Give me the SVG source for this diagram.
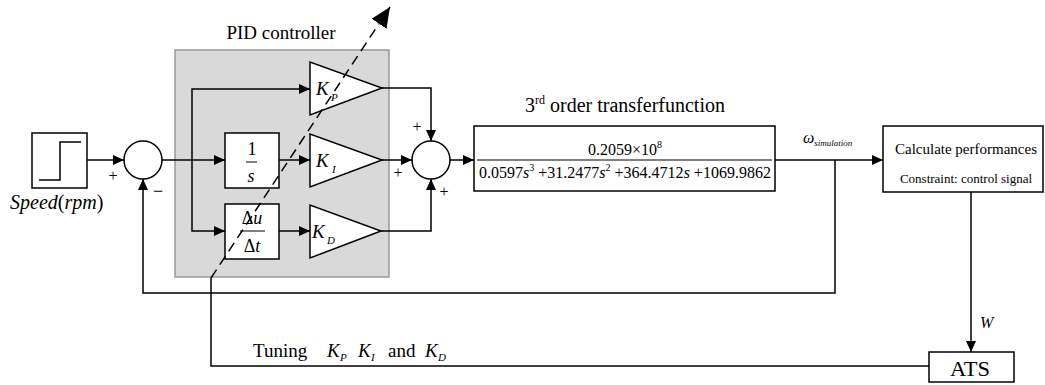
<svg xmlns="http://www.w3.org/2000/svg" width="1045" height="385" viewBox="0 0 1045 385">
<style>
.ln{fill:none;stroke:#000;stroke-width:1.5}
.bx{fill:#fff;stroke:#000;stroke-width:1.5}
text{font-family:'Liberation Serif','Times New Roman','DejaVu Serif',serif;fill:#000}
.i{font-style:italic}
</style>
<defs>
<marker id="ar" markerUnits="userSpaceOnUse" markerWidth="12" markerHeight="10" refX="11" refY="5" orient="auto">
<path d="M0,0 L11,5 L0,10 z" fill="#000"/>
</marker>
<marker id="big" markerUnits="userSpaceOnUse" markerWidth="22" markerHeight="18" refX="20" refY="9" orient="auto">
<path d="M0,0 L20,9 L0,18 z" fill="#000"/>
</marker>
</defs>
<rect x="0" y="0" width="1045" height="385" fill="#fff"/>

<g id="pid-box">
<rect x="175" y="50" width="214" height="227" fill="#d9d9d9" stroke="#999" stroke-width="1.5"/>
<text x="281" y="39" font-size="19" text-anchor="middle">PID controller</text>
</g>

<g id="step">
<rect class="bx" x="32" y="133" width="55" height="55"/>
<path class="ln" d="M39,180 H60 V142 H81"/>
<text x="10" y="209" font-size="20"><tspan class="i">Speed</tspan>(<tspan class="i">rpm</tspan>)</text>
</g>

<g id="sum1">
<circle class="bx" cx="143" cy="160" r="19"/>
<text x="113" y="181" font-size="16" text-anchor="middle">+</text>
<text x="158" y="197" font-size="18" text-anchor="middle">−</text>
</g>

<g id="integrator">
<rect class="bx" x="225" y="133" width="54" height="55"/>
<text x="252" y="155" font-size="18" text-anchor="middle">1</text>
<line x1="246" y1="162" x2="257" y2="162" stroke="#000" stroke-width="1"/>
<text class="i" x="251" y="182" font-size="18" text-anchor="middle">s</text>
</g>

<g id="derivative">
<rect class="bx" x="225" y="204" width="54" height="55"/>
<text x="252" y="224" font-size="18" text-anchor="middle">Δ<tspan class="i">u</tspan></text>
<line x1="240" y1="231" x2="265" y2="231" stroke="#000" stroke-width="1"/>
<text x="252" y="252" font-size="18" text-anchor="middle">Δ<tspan class="i">t</tspan></text>
</g>

<g id="kp">
<polygon class="bx" points="310,62 310,115 382,88" fill="none"/>
<text class="i" x="316" y="95" font-size="19">K</text>
<text class="i" x="331" y="101" font-size="11">P</text>
</g>
<g id="ki">
<polygon class="bx" points="310,134 310,187 382,160"/>
<text class="i" x="316" y="167" font-size="19">K</text>
<text class="i" x="332" y="173" font-size="11">I</text>
</g>
<g id="kd">
<polygon class="bx" points="310,205 310,258 381,231"/>
<text class="i" x="312" y="238" font-size="19">K</text>
<text class="i" x="327" y="244" font-size="11">D</text>
</g>

<g id="sum2">
<circle class="bx" cx="431" cy="160" r="19"/>
<text x="417" y="132" font-size="16" text-anchor="middle">+</text>
<text x="398" y="178" font-size="16" text-anchor="middle">+</text>
<text x="444" y="197" font-size="16" text-anchor="middle">+</text>
</g>

<g id="plant">
<text x="625" y="112" font-size="20" text-anchor="middle">3<tspan font-size="12" dy="-8">rd</tspan><tspan dy="8"> order transferfunction</tspan></text>
<rect class="bx" x="474" y="126" width="301" height="65"/>
<text x="625" y="155" font-size="16" text-anchor="middle">0.2059×10<tspan font-size="10" dy="-7">8</tspan></text>
<line x1="477" y1="160" x2="772" y2="160" stroke="#000" stroke-width="1"/>
<text x="625" y="178" font-size="16" text-anchor="middle">0.0597<tspan class="i">s</tspan><tspan font-size="10" dy="-7">3</tspan><tspan dy="7"> +31.2477</tspan><tspan class="i">s</tspan><tspan font-size="10" dy="-7">2</tspan><tspan dy="7"> +364.4712</tspan><tspan class="i">s</tspan> +1069.9862</text>
</g>

<g id="calc">
<rect class="bx" x="883" y="126" width="160" height="66"/>
<text x="966" y="154" font-size="15" text-anchor="middle">Calculate performances</text>
<text x="966" y="183" font-size="13" text-anchor="middle">Constraint: control signal</text>
</g>

<g id="ats">
<rect class="bx" x="929" y="352" width="85" height="30"/>
<text x="950" y="376" font-size="22" textLength="40" lengthAdjust="spacingAndGlyphs">ATS</text>
</g>

<g id="connectors">
<line class="ln" x1="87" y1="160" x2="124" y2="160" marker-end="url(#ar)"/>
<line class="ln" x1="162" y1="160" x2="225" y2="160" marker-end="url(#ar)"/>
<path class="ln" d="M192,160 V89 H310" marker-end="url(#ar)"/>
<path class="ln" d="M192,160 V231 H225" marker-end="url(#ar)"/>
<line class="ln" x1="279" y1="160" x2="310" y2="160" marker-end="url(#ar)"/>
<line class="ln" x1="279" y1="231" x2="310" y2="231" marker-end="url(#ar)"/>
<path class="ln" d="M382,88 H431 V141" marker-end="url(#ar)"/>
<line class="ln" x1="382" y1="160" x2="412" y2="160" marker-end="url(#ar)"/>
<path class="ln" d="M381,231 H431 V179" marker-end="url(#ar)"/>
<line class="ln" x1="450" y1="160" x2="474" y2="160" marker-end="url(#ar)"/>
<line class="ln" x1="775" y1="160" x2="883" y2="160" marker-end="url(#ar)"/>
<path class="ln" d="M835,160 V293 H143 V179" marker-end="url(#ar)"/>
<line class="ln" x1="971" y1="192" x2="971" y2="352" marker-end="url(#ar)"/>
<path class="ln" d="M929,366 H211 V278"/>
<line class="ln" x1="211" y1="278" x2="390" y2="7" stroke-dasharray="10,6" marker-end="url(#big)"/>
<text class="i" x="803" y="143" font-size="16">ω<tspan font-size="9" dy="3">simulation</tspan></text>
<text class="i" x="980" y="328" font-size="16">W</text>
<text x="253" y="357" font-size="19">Tuning</text>
<text class="i" x="327" y="357" font-size="19">K</text>
<text class="i" x="340" y="361" font-size="11">P</text>
<text class="i" x="358" y="357" font-size="19">K</text>
<text class="i" x="371" y="361" font-size="11">I</text>
<text x="388" y="357" font-size="19">and</text>
<text class="i" x="425" y="357" font-size="19">K</text>
<text class="i" x="438" y="361" font-size="11">D</text>
</g>
</svg>
